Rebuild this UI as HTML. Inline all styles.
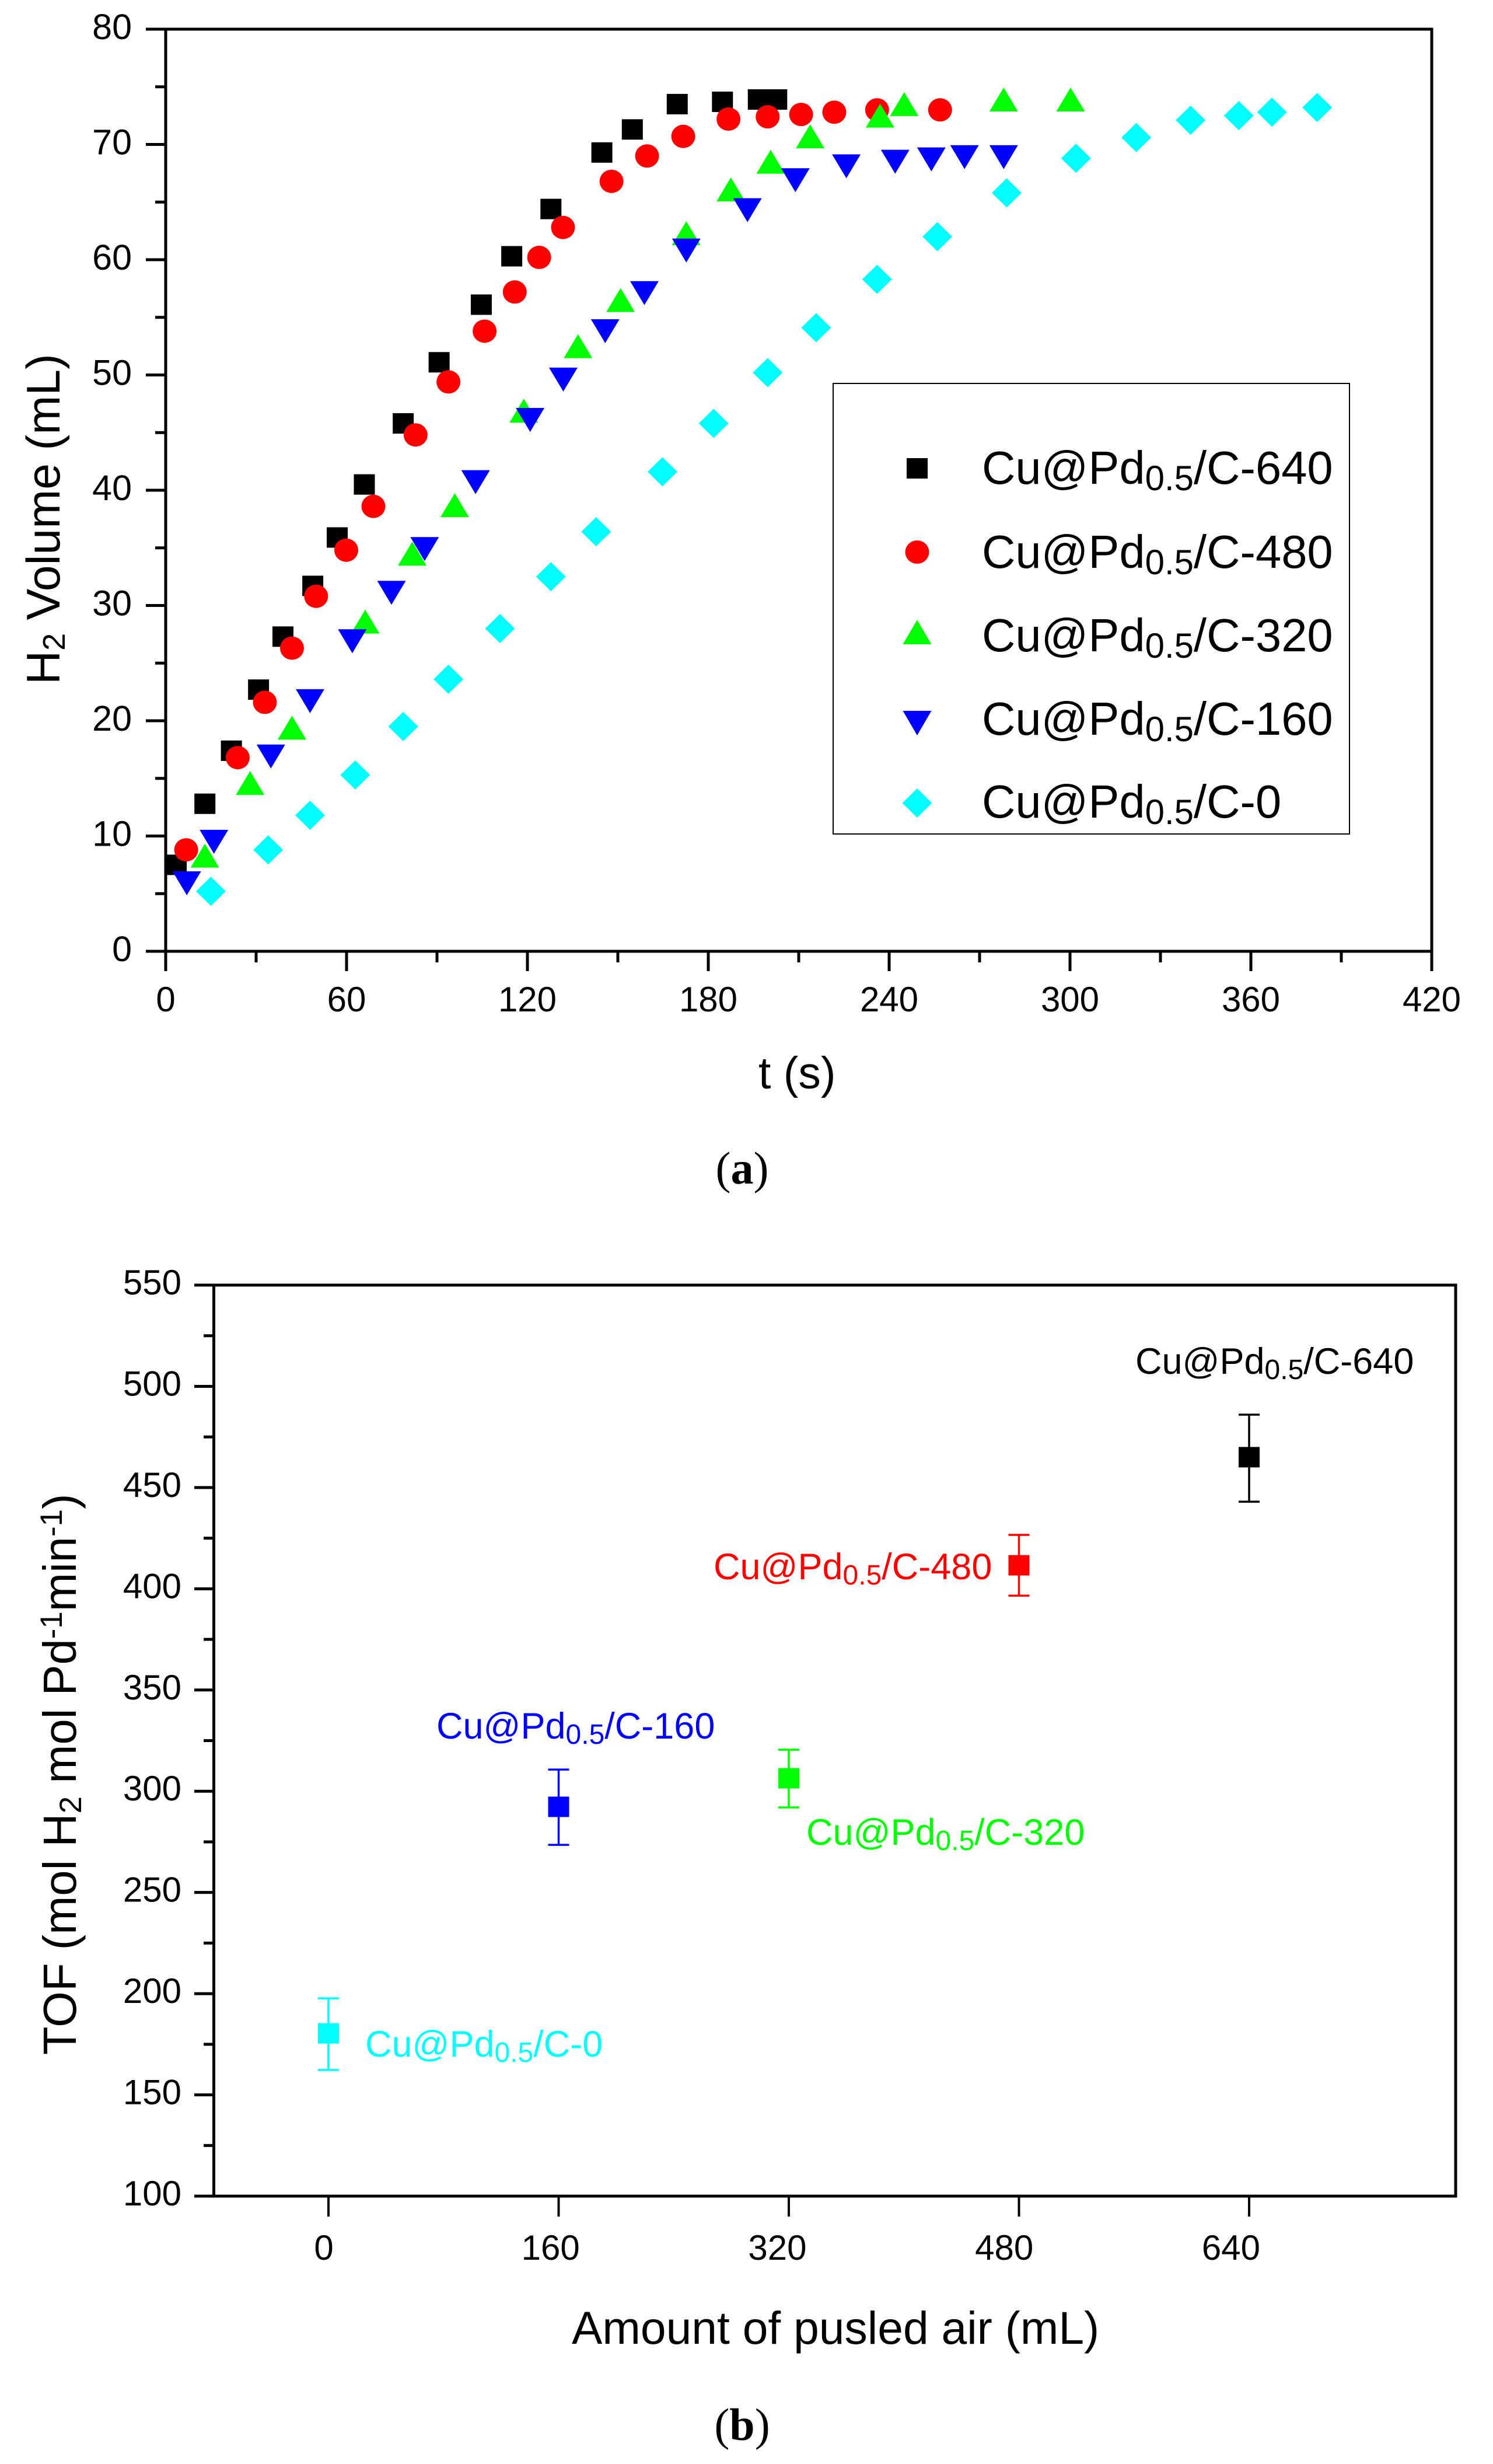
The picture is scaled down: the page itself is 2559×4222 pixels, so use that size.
<!DOCTYPE html>
<html lang="en">
<head>
<meta charset="utf-8">
<title>H2 volume and TOF charts</title>
<style>
html,body{margin:0;padding:0;background:#fff;}
svg{display:block;}
text{font-family:"Liberation Sans",sans-serif;fill:#000;}
.serif{font-family:"Liberation Serif",serif;}
</style>
</head>
<body>
<svg id="figure" xmlns="http://www.w3.org/2000/svg" width="2559" height="4222" viewBox="0 0 2559 4222">
  <rect x="0" y="0" width="2559" height="4222" fill="#ffffff"/>
  <g id="chartA">
    <rect x="284" y="50" width="2170" height="1580" fill="none" stroke="#000" stroke-width="5"/>
    <g id="a-ticks"></g>
    <g id="a-marks"></g>
    <text transform="translate(102,1173) rotate(-90)" font-size="80.5">H<tspan font-size="54" dy="9">2</tspan><tspan dy="-9"> Volume (mL)</tspan></text>
    <text x="1300" y="1865" font-size="77">t (s)</text>
    <g>
      <rect x="1428" y="657" width="885" height="772" fill="#fff" stroke="#000" stroke-width="2"/>
      <rect x="1554" y="785" width="36" height="35" fill="#000"/>
      <ellipse cx="1572" cy="946" rx="20.5" ry="20" fill="#ff0000"/>
      <polygon points="1572,1062 1596.5,1104 1547.5,1104" fill="#00ff00"/>
      <polygon points="1547.5,1218 1596.5,1218 1572,1260" fill="#0000ff"/>
      <polygon points="1572,1351 1597.5,1376 1572,1401 1546.5,1376" fill="#00ffff"/>
      <text x="1683" y="829" font-size="79.5">Cu@Pd<tspan font-size="60" dy="11">0.5</tspan><tspan dy="-11">/C-640</tspan></text>
      <text x="1683" y="973" font-size="79.5">Cu@Pd<tspan font-size="60" dy="11">0.5</tspan><tspan dy="-11">/C-480</tspan></text>
      <text x="1683" y="1116" font-size="79.5">Cu@Pd<tspan font-size="60" dy="11">0.5</tspan><tspan dy="-11">/C-320</tspan></text>
      <text x="1683" y="1259" font-size="79.5">Cu@Pd<tspan font-size="60" dy="11">0.5</tspan><tspan dy="-11">/C-160</tspan></text>
      <text x="1683" y="1401" font-size="79.5">Cu@Pd<tspan font-size="60" dy="11">0.5</tspan><tspan dy="-11">/C-0</tspan></text>
    </g>
    <text class="serif" x="1272" y="2028" font-size="78" text-anchor="middle">(<tspan font-weight="bold">a</tspan>)</text>
  </g>
  <g id="chartB">
    <rect x="366.5" y="2202" width="2128.5" height="1561" fill="none" stroke="#000" stroke-width="5"/>
    <g id="b-ticks"></g>
    <g id="b-marks"></g>
    <text transform="translate(130,3521) rotate(-90)" font-size="79.5">TOF (mol H<tspan font-size="53" dy="9">2</tspan><tspan dy="-9"> mol Pd</tspan><tspan font-size="53" dy="-24">-1</tspan><tspan dy="24">min</tspan><tspan font-size="53" dy="-24">-1</tspan><tspan dy="24">)</tspan></text>
    <text x="980" y="4016" font-size="78.6">Amount of pusled air (mL)</text>
    <text x="1946" y="2354" font-size="63" style="fill:#000000">Cu@Pd<tspan font-size="48" dy="9">0.5</tspan><tspan dy="-9">/C-640</tspan></text>
    <text x="1223" y="2706" font-size="63" style="fill:#ff0000">Cu@Pd<tspan font-size="48" dy="9">0.5</tspan><tspan dy="-9">/C-480</tspan></text>
    <text x="1382" y="3161" font-size="63" style="fill:#00ff00">Cu@Pd<tspan font-size="48" dy="9">0.5</tspan><tspan dy="-9">/C-320</tspan></text>
    <text x="748" y="2979" font-size="63" style="fill:#0000ff">Cu@Pd<tspan font-size="48" dy="9">0.5</tspan><tspan dy="-9">/C-160</tspan></text>
    <text x="626" y="3524" font-size="63" style="fill:#00ffff">Cu@Pd<tspan font-size="48" dy="9">0.5</tspan><tspan dy="-9">/C-0</tspan></text>
    <text class="serif" x="1272" y="4181" font-size="78" text-anchor="middle">(<tspan font-weight="bold">b</tspan>)</text>
  </g>
</svg>
<script>
// ---- Chart A data ----
const aTime640 = [3.5,13,21.8,30.8,38.9,48.8,56.9,65.9,78.8,90.7,104.7,114.8,127.8,144.7,154.8,169.7,184.7,196.6,202.7];
const aVol640 = [7.5,12.8,17.4,22.7,27.3,31.7,35.9,40.5,45.8,51.1,56.1,60.3,64.4,69.3,71.3,73.5,73.7,73.9,73.9];
const aTime480 = [6.8,23.9,32.9,41.9,49.9,59.9,68.9,82.9,93.8,105.8,115.8,123.9,131.8,147.9,159.7,171.7,186.7,199.7,210.8,221.8,236,256.9];
const aVol480 = [8.8,16.8,21.6,26.3,30.8,34.8,38.6,44.8,49.4,53.8,57.2,60.2,62.8,66.8,69,70.7,72.2,72.4,72.6,72.8,73,73];
const aTime320 = [13,28,41.9,66.2,81.8,95.9,118.8,136.8,150.9,172.7,187.5,200.7,213.8,237,245,278,300.2];
const aVol320 = [8.3,14.6,19.4,28.6,34.5,38.7,46.9,52.5,56.5,62.3,66.1,68.5,70.7,72.5,73.5,73.9,73.9];
const aTime160 = [7,16,34.9,47.9,61.9,74.9,85.9,102.8,120.9,131.9,145.8,158.8,172.7,193,208.9,225.8,242,254,265,278];
const aVol160 = [5.9,9.5,16.9,21.7,26.9,31.1,34.9,40.7,46.1,49.6,53.8,57.1,60.8,64.3,66.9,68.1,68.5,68.7,68.9,68.9];
const aTime0 = [15,34,47.9,62.9,78.8,93.8,110.9,127.8,142.8,164.8,181.8,199.7,215.8,236,256,279,302,322,340,356,367,382];
const aVol0 = [5.2,8.8,11.8,15.3,19.5,23.6,28,32.5,36.4,41.6,45.8,50.2,54.1,58.3,62,65.8,68.8,70.6,72.1,72.5,72.8,73.2];
const aXMajor = [0,60,120,180,240,300,360,420];
const aXMinor = [30,90,150,210,270,330,390];
const aYMajor = [0,10,20,30,40,50,60,70,80];
const aYMinor = [5,15,25,35,45,55,65,75];

// ---- Chart B data ----
const bAir = [640,480,320,160,0];
const bTof = [465,411.6,306.4,292.3,180.4];
const bErrHigh = [486,426.6,320.5,310.7,197.7];
const bErrLow = [443,396.6,292,273.5,162.3];
const bColors = ['#000000','#ff0000','#00ff00','#0000ff','#00ffff'];
const bSeriesNames = ['640','480','320','160','0'];
const bXMajor = [0,160,320,480,640];
const bYMajor = [100,150,200,250,300,350,400,450,500,550];
const bYMinor = [125,175,225,275,325,375,425,475,525];

const NS = 'http://www.w3.org/2000/svg';
function make(tag, attrs, parent){
  const el = document.createElementNS(NS, tag);
  for (const k in attrs) el.setAttribute(k, attrs[k]);
  parent.appendChild(el);
  return el;
}
// Axis functions
function ax(t){ return 284 + t * (2170 / 420); }
function ay(v){ return 1630 - v * (1580 / 80); }
function bx(a){ return 563 + a * (1578 / 640); }
function by(v){ return 3763 - (v - 100) * (1561 / 450); }

const aTicks = document.getElementById('a-ticks');
const aMarks = document.getElementById('a-marks');
const bTicks = document.getElementById('b-ticks');
const bMarks = document.getElementById('b-marks');

// ---- Chart A axes ----
aXMajor.forEach(function(t){
  const tick = make('line', {x1: ax(t), x2: ax(t), y1: 1630, y2: 1664, stroke: '#000', 'stroke-width': 5}, aTicks);
  
  
  const lab = make('text', {x: ax(t), y: 1733, 'font-size': 60, 'text-anchor': 'middle'}, aTicks);
  
  
  lab.textContent = String(t);
});
aXMinor.forEach(function(t){
  const tick = make('line', {x1: ax(t), x2: ax(t), y1: 1630, y2: 1649, stroke: '#000', 'stroke-width': 5}, aTicks);
  
  
});
aYMajor.forEach(function(v){
  const tick = make('line', {x1: 250, x2: 284, y1: ay(v), y2: ay(v), stroke: '#000', 'stroke-width': 5}, aTicks);
  
  
  const lab = make('text', {x: 226, y: ay(v) + 17, 'font-size': 61, 'text-anchor': 'end'}, aTicks);
  
  
  lab.textContent = String(v);
});
aYMinor.forEach(function(v){
  const tick = make('line', {x1: 266, x2: 284, y1: ay(v), y2: ay(v), stroke: '#000', 'stroke-width': 5}, aTicks);
  
  
});

// ---- Chart A series ----
aTime640.forEach(function(t, i){
  const el = make('rect', {x: ax(t) - 18, y: ay(aVol640[i]) - 17.5, width: 36, height: 35, fill: '#000000'}, aMarks);
  
  
});
aTime480.forEach(function(t, i){
  const el = make('ellipse', {cx: ax(t), cy: ay(aVol480[i]), rx: 20.5, ry: 20, fill: '#ff0000'}, aMarks);
  
  
});
aTime320.forEach(function(t, i){
  const x = ax(t), y = ay(aVol320[i]);
  const el = make('polygon', {points: x + ',' + (y - 20.5) + ' ' + (x + 24.5) + ',' + (y + 20.5) + ' ' + (x - 24.5) + ',' + (y + 20.5), fill: '#00ff00'}, aMarks);
  
  
});
aTime160.forEach(function(t, i){
  const x = ax(t), y = ay(aVol160[i]);
  const el = make('polygon', {points: (x - 24.5) + ',' + (y - 20.5) + ' ' + (x + 24.5) + ',' + (y - 20.5) + ' ' + x + ',' + (y + 20.5), fill: '#0000ff'}, aMarks);
  
  
});
aTime0.forEach(function(t, i){
  const x = ax(t), y = ay(aVol0[i]);
  const el = make('polygon', {points: x + ',' + (y - 25) + ' ' + (x + 25.5) + ',' + y + ' ' + x + ',' + (y + 25) + ' ' + (x - 25.5) + ',' + y, fill: '#00ffff'}, aMarks);
  
  
});

// ---- Chart B axes ----
bXMajor.forEach(function(a){
  const tick = make('line', {x1: bx(a), x2: bx(a), y1: 3763, y2: 3798, stroke: '#000', 'stroke-width': 4}, bTicks);
  
  
  const lab = make('text', {x: bx(a) - 8 - a * 0.036, y: 3872, 'font-size': 60, 'text-anchor': 'middle'}, bTicks);
  
  
  lab.textContent = String(a);
});
bYMajor.forEach(function(v){
  const tick = make('line', {x1: 333, x2: 366, y1: by(v), y2: by(v), stroke: '#000', 'stroke-width': 5}, bTicks);
  
  
  const lab = make('text', {x: 311, y: by(v) + 16, 'font-size': 60, 'text-anchor': 'end'}, bTicks);
  
  
  lab.textContent = String(v);
});
bYMinor.forEach(function(v){
  const tick = make('line', {x1: 349, x2: 366, y1: by(v), y2: by(v), stroke: '#000', 'stroke-width': 5}, bTicks);
  
  
});

// ---- Chart B series ----
bAir.forEach(function(a, i){
  const x = bx(a), c = bColors[i];
  const stem = make('line', {x1: x, x2: x, y1: by(bErrHigh[i]), y2: by(bErrLow[i]), stroke: c, 'stroke-width': 3.5}, bMarks);
  
  
  const capHigh = make('line', {x1: x - 18, x2: x + 18, y1: by(bErrHigh[i]), y2: by(bErrHigh[i]), stroke: c, 'stroke-width': 3.5}, bMarks);
  
  
  const capLow = make('line', {x1: x - 18, x2: x + 18, y1: by(bErrLow[i]), y2: by(bErrLow[i]), stroke: c, 'stroke-width': 3.5}, bMarks);
  
  
  const pt = make('rect', {x: x - 18, y: by(bTof[i]) - 17.5, width: 36, height: 35, fill: c}, bMarks);
  
  
});
</script>
</body>
</html>
